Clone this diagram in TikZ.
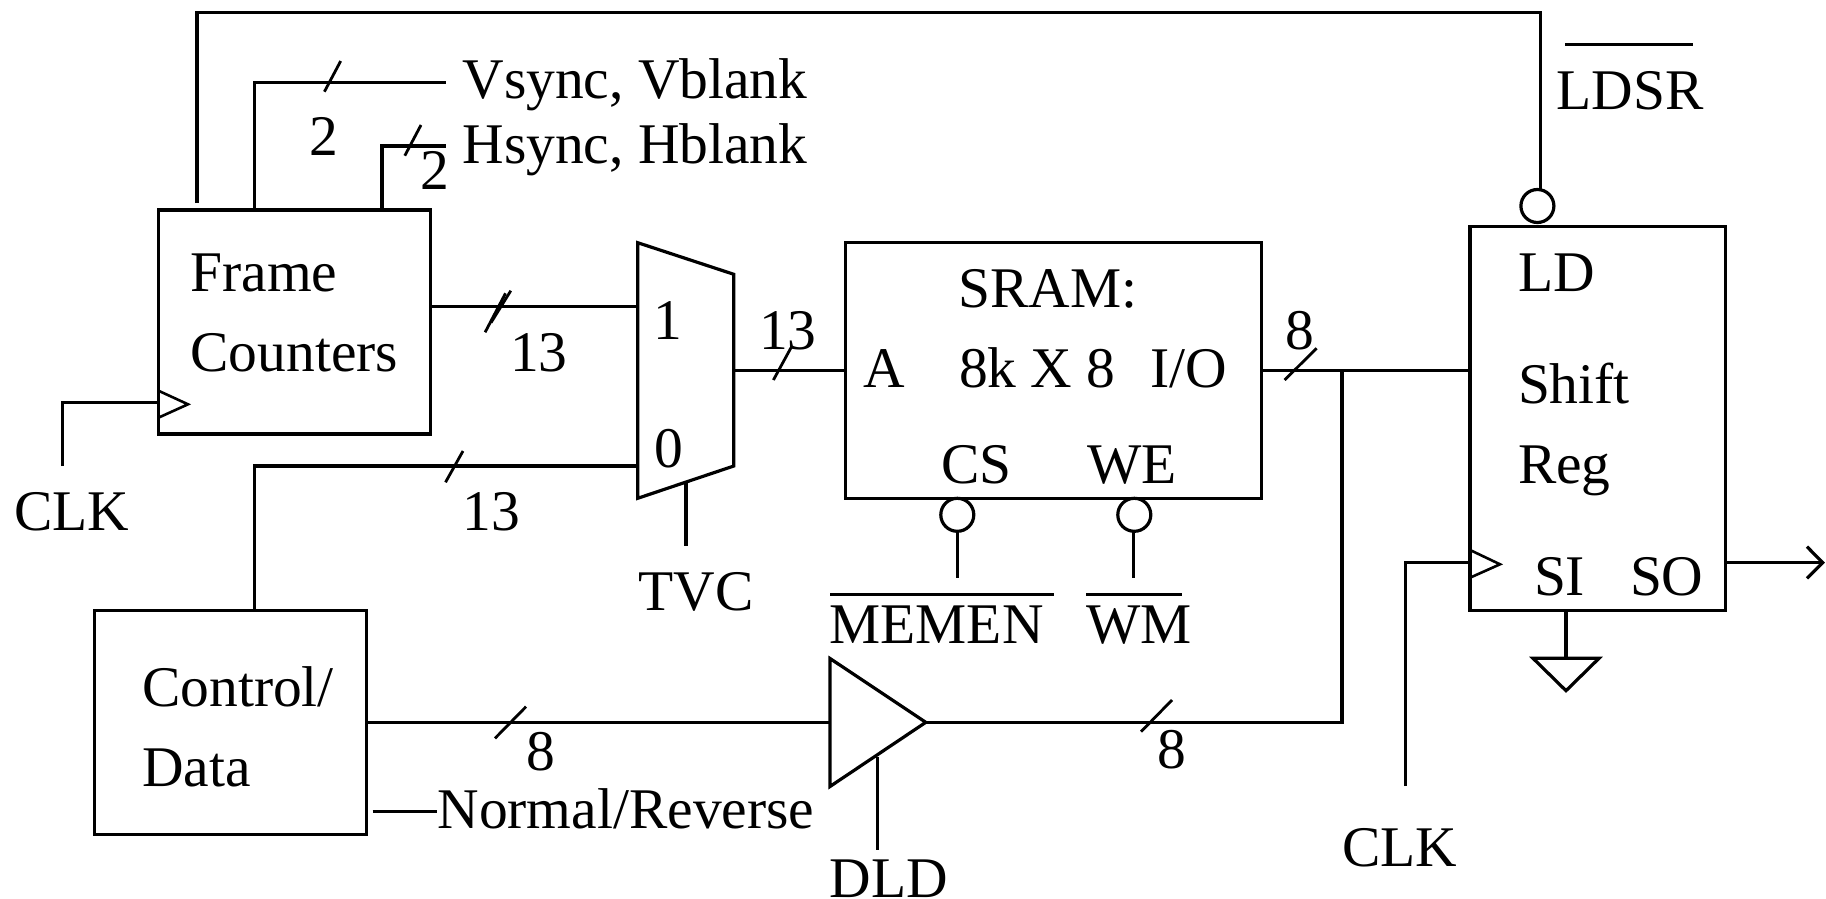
\documentclass[tikz,border=0pt]{standalone}
\usepackage{fontspec}
\setmainfont{Liberation Serif}
\tikzset{
  wire/.style={line width=3.2pt,line cap=butt,line join=miter},
  block/.style={draw,line width=3.2pt,rectangle,inner sep=0pt,outer sep=0pt},
  lbl/.style={inner sep=0pt,outer sep=0pt,anchor=base west,xshift=-1pt,yshift=-1pt,font=\fontsize{57.5}{60}\selectfont},
  bubble/.style={draw,line width=3.2pt,circle,inner sep=0pt,outer sep=0pt,minimum size=33pt},
  slash/.style={line width=2.8pt},
}
\begin{document}
\begin{tikzpicture}[x=1pt,y=-1pt]
\useasboundingbox (0,0) rectangle (1826,899);
% blocks
\node[block,minimum width=272pt,minimum height=224pt] (fc) at (294.4,322) {};
\node[block,minimum width=272pt,minimum height=224pt] (ctl) at (230.3,722.2) {};
\node[block,minimum width=415.7pt,minimum height=255.6pt] (sram) at (1053.5,370.5) {};
\node[block,minimum width=255.5pt,minimum height=384pt] (sr) at (1597.7,418.7) {};
% mux and other polygons
\coordinate (m1) at (637.7,242.7);
\coordinate (m2) at (733.8,274.3);
\coordinate (m3) at (733.8,466);
\coordinate (m4) at (637.7,498.3);
\draw[wire] (m1) -- (m2) -- (m3) -- (m4) -- cycle;
\coordinate (b1) at (830,658.5);
\coordinate (b2) at (925.8,722.3);
\coordinate (b3) at (830,786.5);
\draw[wire] (b1) -- (b2) -- (b3) -- cycle;
\coordinate (g1) at (1533,658.3);
\coordinate (g2) at (1599,658.3);
\coordinate (g3) at (1566,690.7);
\draw[wire] (g1) -- (g2) -- (g3) -- cycle;
% clock triangles
\draw[line width=2.6pt] (158.4,390.7) -- (188,404.3) -- (158.4,417.7);
\draw[line width=2.6pt] (1470,550) -- (1500,564.3) -- (1470,577.7);
% bubbles
\node[bubble] (bld) at (1537.4,206) {};
\node[bubble] (bcs) at (957.3,514.8) {};
\node[bubble] (bwe) at (1134.3,514.8) {};
% free ends
\coordinate (ldsrEnd) at (197,203);
\coordinate (ldsrTop) at (197,12.3);
\coordinate (ldsrTopR) at (1540.8,12.3);
\coordinate (vEnd) at (445.5,82.3);
\coordinate (hEnd) at (445.5,146);
\coordinate (ck1) at (62.3,466);
\coordinate (ck1b) at (62.3,402.7);
\coordinate (a1) at (637.7,306.3);
\coordinate (a0) at (637.7,466);
\coordinate (amem) at (733.8,370.3);
\coordinate (jn) at (1342,370.3);
\coordinate (jb) at (1342,722.3);
\coordinate (nrA) at (372.7,811.7);
\coordinate (nrB) at (436.8,811.7);
\coordinate (tvcA) at (686,482.7);
\coordinate (tvcB) at (686,546);
\coordinate (dldA) at (877.7,756.7);
\coordinate (dldB) at (877.7,850);
\coordinate (csEnd) at (957.8,578.3);
\coordinate (weEnd) at (1133.7,578.3);
\coordinate (ck2) at (1405.7,786);
\coordinate (ck2b) at (1405.7,562.7);
\coordinate (outA) at (1725.5,562.7);
\coordinate (outB) at (1822.7,562.7);
% connectors
\draw[wire] (ldsrEnd) -- (ldsrTop) -- (ldsrTopR) -- (bld.north -| ldsrTopR);
\draw[wire] (fc.north -| 254.5,0) -- (254.5,82.3) -- (vEnd);
\draw[wire] (fc.north -| 382,0) -- (382,146) -- (hEnd);
\draw[wire] (ck1) -- (ck1b) -- (fc.west |- ck1b);
\draw[wire] (fc.east |- a1) -- (a1);
\draw[wire] (ctl.north -| 254.5,0) -- (254.5,466) -- (a0);
\draw[wire] (amem) -- (sram.west |- amem);
\draw[wire] (sram.east |- jn) -- (sr.west |- jn);
\draw[wire] (jn) -- (jb) -- (b2);
\draw[wire] (ctl.east |- b2) -- (b1 |- b2);
\draw[wire] (nrA) -- (nrB);
\draw[wire] (tvcA) -- (tvcB);
\draw[wire] (dldA) -- (dldB);
\draw[wire] (bcs.south -| csEnd) -- (csEnd);
\draw[wire] (bwe.south -| weEnd) -- (weEnd);
\draw[wire] (ck2) -- (ck2b) -- (sr.west |- ck2b);
\draw[wire] (sr.south -| g3) -- (g3 |- g1);
\draw[wire] (outA) -- (outB);
\draw[wire] (1807,546.7) -- (outB) -- (1807,578.3);
% bus slashes
\draw[slash] (324.4,91.7) -- (340.7,61);
\draw[slash] (404.8,155.7) -- (421,125);
\draw[slash] (485.1,332.3) -- (505.5,293.3);
\draw[slash] (491,322.7) -- (510.8,290.7);
\draw[slash] (445.5,482.3) -- (463,451);
\draw[slash] (773.4,380) -- (791,347.7);
\draw[slash] (1284.6,380) -- (1316.6,348.3);
\draw[slash] (495,738.3) -- (526,706.7);
\draw[slash] (1141,731.7) -- (1172,700);
% overlines
\draw[wire] (1565,44.3) -- (1693,44.3);
\draw[wire] (830,594.3) -- (1054,594.3);
\draw[wire] (1086,594.3) -- (1182,594.3);
% labels
\node[lbl] (tv) at (463.5,98) {Vsync, Vblank};
\node[lbl] (th) at (463.5,162) {Hsync, Hblank};
\node[lbl] (n2a) at (310,154.5) {2};
\node[lbl] (n2b) at (421,188) {2};
\node[lbl] (tframe) at (191.5,290) {Frame};
\node[lbl] (tcount) at (191.5,370) {Counters};
\node[lbl] (tclk1) at (15,529.5) {CLK};
\node[lbl] (n13a) at (511,370) {13};
\node[lbl] (n13b) at (760,348) {13};
\node[lbl] (n13c) at (463.7,529.5) {13};
\node[lbl] (tone) at (654.5,338) {1};
\node[lbl] (tzero) at (655,466) {0};
\node[lbl] (tA) at (864,386.7) {A};
\node[lbl] (tsram) at (959.6,306.7) {SRAM:};
\node[lbl] (tsize) at (960,386.7) {8k X 8};
\node[lbl] (tio) at (1151.8,386.7) {I/O};
\node[lbl] (tcs) at (942.5,482) {CS};
\node[lbl] (twe) at (1088.5,482) {WE};
\node[lbl] (tmem) at (830.5,642) {MEMEN};
\node[lbl] (twm) at (1087.7,642) {WM};
\node[lbl] (ttvc) at (639.5,609.5) {TVC};
\node[lbl] (n8a) at (1286,348) {8};
\node[lbl] (n8b) at (527,769.5) {8};
\node[lbl] (n8c) at (1158,767) {8};
\node[lbl] (tctl) at (143.2,705.5) {Control/};
\node[lbl] (tdata) at (143.2,785.5) {Data};
\node[lbl] (tnr) at (438.5,827.7) {Normal/Reverse};
\node[lbl] (tdld) at (830.5,896) {DLD};
\node[lbl] (tldsr) at (1557.7,108) {LDSR};
\node[lbl] (tld) at (1519,290) {LD};
\node[lbl] (tshift) at (1519,402) {Shift};
\node[lbl] (treg) at (1519,482) {Reg};
\node[lbl] (tsi) at (1535,594) {SI};
\node[lbl] (tso) at (1631,594) {SO};
\node[lbl] (tclk2) at (1343,865.7) {CLK};
\end{tikzpicture}
\end{document}
